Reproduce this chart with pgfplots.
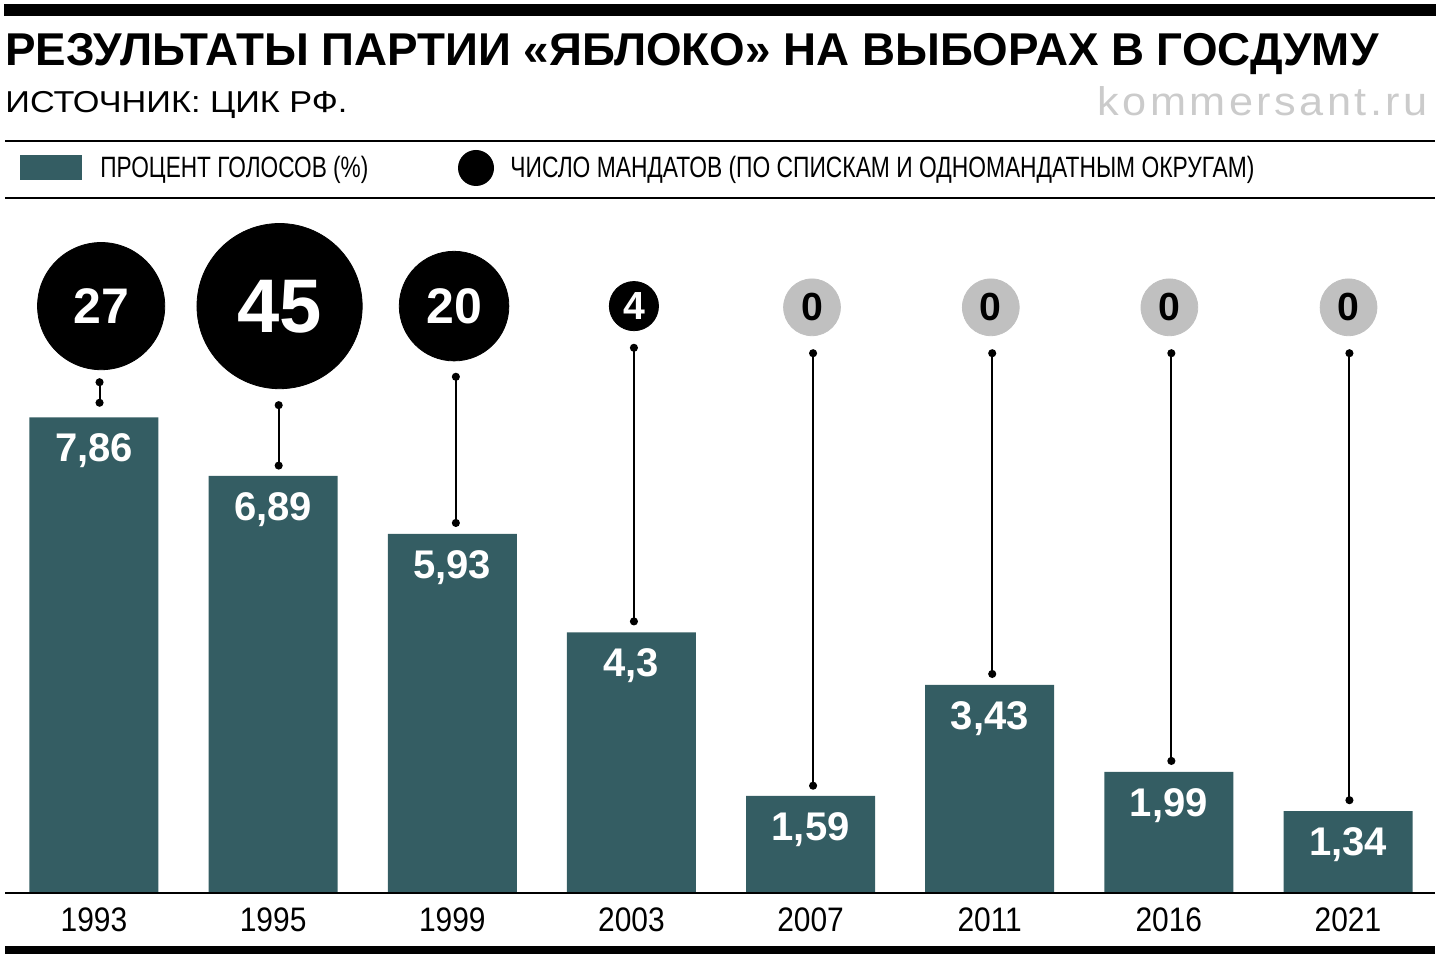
\documentclass[border=0pt]{standalone}
\usepackage{fontspec}
\setmainfont{Liberation Sans}
\newfontfamily\kfont{Liberation Sans}[LetterSpace=8]
\newfontfamily\cfont{Liberation Sans}[FakeStretch=0.88]
\usepackage{graphicx}
\usepackage{pgfplots}
\pgfplotsset{compat=1.18}
\usepackage{pgfplotstable}
\definecolor{barcol}{HTML}{345D63}
\definecolor{zerogray}{HTML}{C0C0C0}
\definecolor{markgray}{HTML}{CBCBCB}

\pgfplotstableread{
x pct seats
0 7.86 27
1 6.89 45
2 5.93 20
3 4.30 4
4 1.59 0
5 3.43 0
6 1.99 0
7 1.34 0
}\results

\begin{document}
\begin{tikzpicture}
\path[use as bounding box] (0,0) rectangle (720pt,480pt);
\begin{axis}[
  at={(0,0)}, anchor=south west,
  width=720pt, height=480pt, scale only axis,
  xmin=-0.5247, xmax=7.5136, ymin=-1.1258, ymax=14.768,
  axis line style={draw=none},
  xtick={0,1,2,3,4,5,6,7},
  xticklabels={1993,1995,1999,2003,2007,2011,2016,2021},
  ytick=\empty, major tick length=0pt,
  xticklabel style={anchor=base, yshift=14.5pt, inner sep=0pt,
    font=\cfont\fontsize{17}{18}\selectfont, text=black},
  clip=false,
]
% bars
\addplot[ybar, bar width=64.5pt, fill=barcol, draw=none,
  point meta=y,
  nodes near coords={\pgfmathprintnumber[use comma,fixed,precision=2,assume math mode=true]{\pgfplotspointmeta}},
  every node near coord/.append style={white, inner sep=0pt, text depth=0pt,
    font=\fontsize{20}{21}\selectfont\bfseries, yshift=-22.3pt}]
  table[x=x, y=pct] {\results};
% connectors
\addplot[black, line width=1pt, mark=*, mark size=1.6pt,
  mark options={solid, line width=0.8pt}, unbounded coords=jump] coordinates {
  (0.031,8.44) (0.031,8.10) (0.031,nan)
  (1.031,8.06) (1.031,7.06) (1.031,nan)
  (2.020,8.53) (2.020,6.11) (2.020,nan)
  (3.014,9.01) (3.014,4.48) (3.014,nan)
  (4.014,8.92) (4.014,1.76) (4.014,nan)
  (5.014,8.92) (5.014,3.61) (5.014,nan)
  (6.014,8.92) (6.014,2.17) (6.014,nan)
  (7.008,8.92) (7.008,1.52)
};
% seat circles
\addplot[only marks, mark=*, mark size=31.8pt, black, point meta=explicit symbolic,
  nodes near coords, every node near coord/.append style={white, inner sep=0pt, text depth=0pt,
    font=\fontsize{25}{26}\selectfont\bfseries, yshift=-9pt}]
  coordinates {(0.040,9.70) [27]};
\addplot[only marks, mark=*, mark size=41.3pt, black, point meta=explicit symbolic,
  nodes near coords, every node near coord/.append style={white, inner sep=0pt, text depth=0pt,
    font=\fontsize{38}{39}\selectfont\bfseries, yshift=-13.6pt}]
  coordinates {(1.036,9.70) [45]};
\addplot[only marks, mark=*, mark size=27.4pt, black, point meta=explicit symbolic,
  nodes near coords, every node near coord/.append style={white, inner sep=0pt, text depth=0pt,
    font=\fontsize{25}{26}\selectfont\bfseries, yshift=-9pt}]
  coordinates {(2.010,9.70) [20]};
\addplot[only marks, mark=*, mark size=12.3pt, black, point meta=explicit symbolic,
  nodes near coords, every node near coord/.append style={white, inner sep=0pt, text depth=0pt,
    font=\fontsize{19.6}{20}\selectfont\bfseries, yshift=-7pt}]
  coordinates {(3.014,9.70) [4]};
\addplot[only marks, mark=*, mark size=14.2pt, zerogray, point meta=explicit symbolic,
  nodes near coords, every node near coord/.append style={black, inner sep=0pt, text depth=0pt,
    font=\fontsize{19.6}{20}\selectfont\bfseries, yshift=-7pt}]
  coordinates {(4.008,9.68) [0] (5.006,9.68) [0] (6.003,9.68) [0] (7.003,9.68) [0]};
\end{axis}
\begin{scope}[shift={(0pt,480pt)}, x=0.5pt, y=-0.5pt]
  % rules
  \fill[black] (4,4) rectangle (1436,16);
  \fill[black] (5,140) rectangle (1435,142);
  \fill[black] (5,197) rectangle (1435,199);
  \fill[black] (5,892) rectangle (1435,894);
  \fill[black] (5,946) rectangle (1435,954);
  % title and source
  \node[anchor=base west, inner sep=0pt] at (5,66)
    {\resizebox{686.5pt}{\height}{\fontsize{23}{24}\selectfont\bfseries РЕЗУЛЬТАТЫ ПАРТИИ «ЯБЛОКО» НА ВЫБОРАХ В ГОСДУМУ}};
  \node[anchor=base west, inner sep=0pt] at (5,113)
    {\resizebox{171pt}{\height}{\fontsize{15.1}{16}\selectfont ИСТОЧНИК: ЦИК РФ.}};
  \node[anchor=base east, inner sep=0pt, text=markgray] at (1428,116)
    {\resizebox{165pt}{\height}{\kfont\fontsize{20}{21}\selectfont kommersant.ru}};
  % legend
  \fill[barcol] (20,155) rectangle (82,180);
  \node[anchor=base west, inner sep=0pt] at (100,178)
    {\resizebox{134pt}{\height}{\fontsize{14.7}{15}\selectfont ПРОЦЕНТ ГОЛОСОВ (\%)}};
  \fill[black] (476,168) circle[radius=18];
  \node[anchor=base west, inner sep=0pt] at (510,178)
    {\resizebox{372pt}{\height}{\fontsize{14.7}{15}\selectfont ЧИСЛО МАНДАТОВ (ПО СПИСКАМ И ОДНОМАНДАТНЫМ ОКРУГАМ)}};
\end{scope}
\end{tikzpicture}
\end{document}
